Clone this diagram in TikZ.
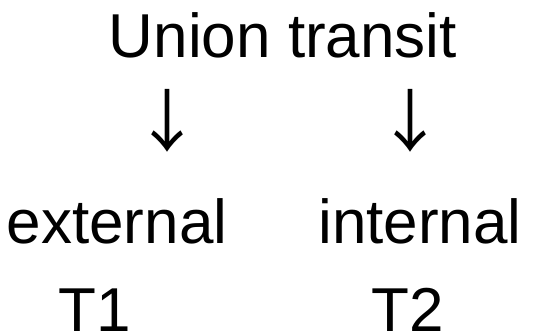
\documentclass[tikz,border=0pt]{standalone}
\usepackage{fontspec}
\setmainfont{Liberation Sans}
\newfontfamily\arrowfont{Noto Sans CJK SC}
\begin{document}
\begin{tikzpicture}[x=1pt,y=-1pt,
  word/.style={inner sep=0pt,outer sep=0pt,anchor=base,font=\fontsize{62}{70}\selectfont},
  glyph/.style={inner sep=0pt,outer sep=0pt,anchor=base,font=\arrowfont\fontsize{68}{76}\selectfont}]
\useasboundingbox (0,0) rectangle (540,335);
\node[word] (title) at (283,57) {Union transit};
\node[glyph] (arrL) at (167,146) {↓};
\node[glyph] (arrR) at (410,146) {↓};
\node[word] (ext) at (117,243) {external};
\node[word] (int) at (420,243) {internal};
% the bottom row sits on the lower edge; it has no descenders
\node[word,text depth=0pt] (t1) at (95,331) {T1};
\node[word,text depth=0pt] (t2) at (408,331) {T2};
\end{tikzpicture}
\end{document}
